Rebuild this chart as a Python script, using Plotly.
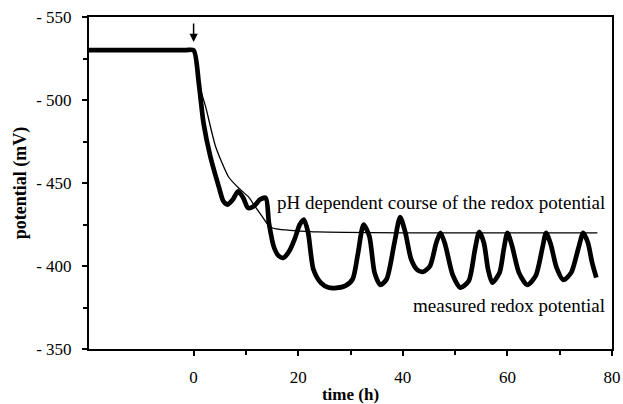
import plotly.graph_objects as go

# measured redox potential (thick line)
t_measured = [-20, -15, -10, -5, -1.5, 0, 1.0, 1.9, 3.2, 4.8, 5.7, 6.5, 7.5, 8.5, 9.5, 10.4, 11.5, 12.7, 13.8,
              14.4, 15.4, 16.3, 17.2, 18.3, 19.3, 20.3, 21.1, 21.9, 22.9, 24.3, 25.8,
              27.3, 29.0, 30.4, 31.4, 32.5, 33.6, 34.6, 35.7, 36.9, 38.4, 39.5, 40.5,
              41.6, 42.8, 43.9, 45.2, 46.4, 47.2, 48.1, 49.5, 51.0, 52.6, 53.8, 54.6,
              55.5, 56.3, 57.1, 58.5, 59.3, 60.0, 60.9, 62.2, 63.8, 65.4, 66.7, 67.4,
              68.3, 69.4, 70.7, 72.2, 73.6, 74.5, 75.4, 76.2, 77.0]
v_measured = [-530, -530, -530, -530, -530, -530, -510, -486, -466, -448, -439, -437, -440, -445, -441, -435, -436, -440, -441,
              -426, -411, -406, -405, -409, -416, -425, -428, -420, -398, -390, -387,
              -386.8, -388, -392, -407, -425, -418, -396, -388.6, -392, -414, -429.5, -420,
              -404, -397.6, -396.5, -400, -414, -420, -413, -395, -387, -391, -410, -420.5,
              -414, -398, -390, -396, -410, -420, -412, -396, -388.6, -394, -411, -420,
              -413, -399, -391.6, -396, -411, -420, -414, -402, -393]

# pH dependent course of the redox potential (thin line)
t_ph = [-20, -10, -1.5, 0, 1.0, 2.3, 4.2, 6.7, 8.6, 10.5, 11.8, 13.2, 14.6, 16.5, 18.5, 23.7, 40, 60, 77.2]
v_ph = [-530, -530, -530, -530, -510, -496, -472, -453.6, -447, -441.6, -435.6, -429.5, -423.5, -422, -421.5, -420.5, -420, -420, -420]

y_ticks = [-550, -500, -450, -400, -350]
y_labels = ["- 550", "- 500", "- 450", "- 400", "- 350"]
x_ticks = [0, 20, 40, 60, 80]
x_minor = [10, 30, 50, 70]
y_minor = [-525, -475, -425, -375]

FONT = "Liberation Serif"

fig = go.Figure()
fig.add_trace(go.Scatter(x=t_ph, y=v_ph, mode="lines",
                         line=dict(color="black", width=1.3, shape="spline", smoothing=0.6),
                         showlegend=False))
fig.add_trace(go.Scatter(x=t_measured, y=v_measured, mode="lines",
                         line=dict(color="black", width=4.7, shape="spline", smoothing=0.7),
                         showlegend=False))

fig.add_annotation(x=0, y=-535, xref="x", yref="y", ax=0, ay=-547, axref="x", ayref="y",
                   showarrow=True, arrowhead=2, arrowsize=1.1, arrowwidth=1.5, arrowcolor="black", text="")
fig.add_annotation(x=79, y=-438, xref="x", yref="y", xanchor="right", yanchor="middle",
                   text="pH dependent course of the redox potential", showarrow=False,
                   font=dict(family=FONT, size=19, color="black"))
fig.add_annotation(x=79, y=-376.5, xref="x", yref="y", xanchor="right", yanchor="middle",
                   text="measured redox potential", showarrow=False,
                   font=dict(family=FONT, size=19, color="black"))

fig.update_layout(
    template="none",
    width=623, height=404,
    margin=dict(l=89, r=11, t=17, b=55, autoexpand=False),
    paper_bgcolor="white", plot_bgcolor="white",
    font=dict(family=FONT, color="black"),
    xaxis=dict(range=[-20, 80], automargin=False, tickmode="array", tickvals=x_ticks, ticks="outside", ticklen=5,
               tickwidth=1.5, tickcolor="black", showline=True, linewidth=2, linecolor="black",
               mirror=True, showgrid=False, zeroline=False, ticklabelstandoff=7,
               tickfont=dict(family=FONT, size=17),
               minor=dict(tickmode="array", tickvals=x_minor, ticks="outside", ticklen=4,
                          tickwidth=1.5, tickcolor="black", showgrid=False),
               title=dict(text="<b>time (h)</b>", font=dict(family=FONT, size=17), standoff=11)),
    yaxis=dict(range=[-350, -550], automargin=False, tickmode="array", tickvals=y_ticks,
               ticktext=y_labels, ticks="outside", ticklen=5, tickwidth=1.5, tickcolor="black",
               showline=True, linewidth=2, linecolor="black", mirror=True, showgrid=False,
               zeroline=False, ticklabelstandoff=7, tickfont=dict(family=FONT, size=17),
               minor=dict(tickmode="array", tickvals=y_minor, ticks="outside", ticklen=4,
                          tickwidth=1.5, tickcolor="black", showgrid=False),
               title=dict(text="<b>potential (mV)</b>", font=dict(family=FONT, size=18), standoff=5)),
)

fig.write_html("out.html")
